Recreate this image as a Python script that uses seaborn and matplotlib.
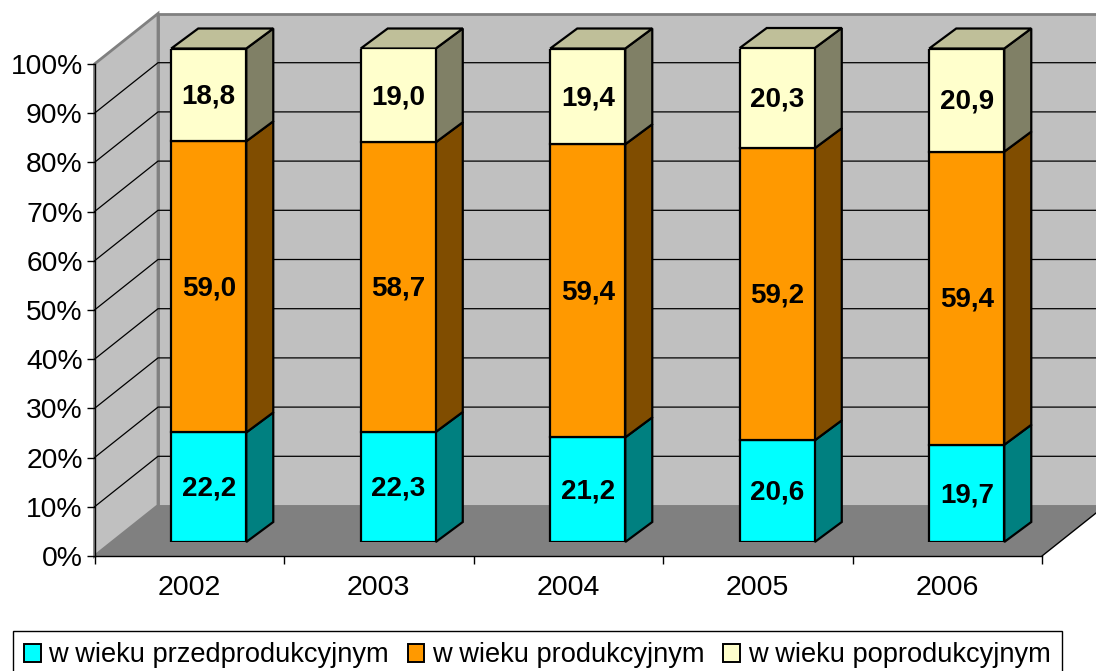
import matplotlib
matplotlib.use('Agg')
import matplotlib.pyplot as plt
from matplotlib.patches import Patch, Polygon
import seaborn as sns

years = ['2002', '2003', '2004', '2005', '2006']
przed = [22.2, 22.3, 21.2, 20.6, 19.7]
prod = [59.0, 58.7, 59.4, 59.2, 59.4]
po = [18.8, 19.0, 19.4, 20.3, 20.9]
labels = ['w wieku przedprodukcyjnym', 'w wieku produkcyjnym', 'w wieku poprodukcyjnym']
y_ticks = [0, 10, 20, 30, 40, 50, 60, 70, 80, 90, 100]

front_colors = ['#00FFFF', '#FF9900', '#FFFFCC']
side_colors = ['#008080', '#804D00', '#808066']
top_color = '#BFBF99'

W, H = 1096, 671

sns.set_style('white')
plt.rcParams['font.family'] = ['Liberation Sans', 'DejaVu Sans']
plt.rcParams['text.color'] = 'black'
plt.rcParams['xtick.color'] = 'black'
plt.rcParams['ytick.color'] = 'black'
plt.rcParams['xtick.bottom'] = True
plt.rcParams['ytick.left'] = True
fig = plt.figure(figsize=(W / 100, H / 100), dpi=100)


def px_axes(x0, x1, y_bottom, y_top):
    return fig.add_axes([x0 / W, 1 - y_bottom / H, (x1 - x0) / W, (y_bottom - y_top) / H])


# walls and floor, in pixels of the figure
bg = fig.add_axes([0, 0, 1, 1])
bg.set_xlim(0, W)
bg.set_ylim(H, 0)
bg.axis('off')

fx0, fx1, fy0, fy100 = 94.5, 1042, 556, 64
dx, dy = 63.5, -50.5
bg.add_patch(Polygon([(fx0 + dx, fy0 + dy), (fx0 + dx, fy100 + dy), (fx1 + dx, fy100 + dy), (fx1 + dx, fy0 + dy)],
                     fc='#C0C0C0', ec='#808080', lw=2))
bg.add_patch(Polygon([(fx0, fy0), (fx0, fy100), (fx0 + dx, fy100 + dy), (fx0 + dx, fy0 + dy)],
                     fc='#C0C0C0', ec='#808080', lw=2))
bg.add_patch(Polygon([(fx0, fy0), (fx0 + dx, fy0 + dy), (fx1 + dx, fy0 + dy), (fx1, fy0)],
                     fc='#808080', ec='none'))
bg.plot([fx1, fx1 + dx], [fy0, fy0 + dy], color='black', lw=1)
for t in y_ticks[1:-1]:
    y = fy0 + (fy100 - fy0) * t / 100
    bg.plot([fx0, fx0 + dx, fx1 + dx], [y, y + dy, y + dy], color='black', lw=0.9)

# axis on the front plane
ax = px_axes(fx0, fx1, fy0, fy100)
ax.patch.set_alpha(0)
ax.set_xlim(-0.5, 4.5)
ax.set_ylim(0, 100)
ax.set_xticks(range(len(years)), years)
ax.set_xticks([i - 0.5 for i in range(len(years) + 1)], minor=True)
ax.set_yticks(y_ticks, [f'{t}%' for t in y_ticks])
ax.tick_params(axis='x', which='major', length=0, pad=14, labelsize=20.5)
ax.tick_params(axis='x', which='minor', bottom=True, length=5.5, width=1, direction='out')
ax.tick_params(axis='y', which='major', left=True, length=5.5, width=1, direction='out', pad=3, labelsize=20.3)
sns.despine(ax=ax)
for s in ['left', 'bottom']:
    ax.spines[s].set_color('black')
    ax.spines[s].set_linewidth(1)

# bars stand a bit behind the front plane
ax_bar = px_axes(fx0 + 19.5, fx1 + 19.5, 542, 48.5)
ax_bar.patch.set_alpha(0)
ax_bar.axis('off')
bottom = [0] * len(years)
series = [przed, prod, po]
for vals, col in zip(series, front_colors):
    sns.barplot(x=years, y=vals, bottom=bottom, color=col, saturation=1, width=0.396,
                edgecolor='black', linewidth=1.6, ax=ax_bar, zorder=3)
    bottom = [b + v for b, v in zip(bottom, vals)]
ax_bar.set_xlim(-0.5, 4.5)
ax_bar.set_ylim(0, 100)

# depth of a bar, in units of the bar axes
bar_dx = 27 / ((fx1 - fx0) / 5)
bar_dy = 20 / (493.5 / 100)
for c, vals, side in zip(ax_bar.containers, series, side_colors):
    for rect, v in zip(c.patches, vals):
        x1 = rect.get_x() + rect.get_width()
        y0 = rect.get_y()
        y1 = y0 + rect.get_height()
        ax_bar.add_patch(Polygon([(x1, y0), (x1 + bar_dx, y0 + bar_dy), (x1 + bar_dx, y1 + bar_dy), (x1, y1)],
                                 fc=side, ec='black', lw=1.6, clip_on=False, zorder=2))
        ax_bar.annotate(f'{v:.1f}'.replace('.', ','), (rect.get_x() + rect.get_width() / 2, (y0 + y1) / 2),
                        xytext=(0, -1.2), textcoords='offset points',
                        ha='center', va='center', fontsize=20, fontweight='bold', color='black', zorder=5)
for rect in ax_bar.containers[-1].patches:
    x0 = rect.get_x()
    x1 = x0 + rect.get_width()
    y1 = rect.get_y() + rect.get_height()
    ax_bar.add_patch(Polygon([(x0, y1), (x1, y1), (x1 + bar_dx, y1 + bar_dy), (x0 + bar_dx, y1 + bar_dy)],
                             fc=top_color, ec='black', lw=1.6, clip_on=False, zorder=2))

handles = [Patch(fc=c, ec='black', lw=1.4) for c in front_colors]
leg = fig.legend(handles, labels, loc='upper left', bbox_to_anchor=(12.5 / W, 1 - 631 / H), ncol=3,
                 fontsize=19.6, frameon=True, fancybox=False, edgecolor='black', framealpha=1,
                 handlelength=0.62, handleheight=0.62, handletextpad=0.28, columnspacing=0.68,
                 borderpad=0.42, borderaxespad=0)
leg.get_frame().set_linewidth(1)

fig.savefig('out.png', dpi=100)
